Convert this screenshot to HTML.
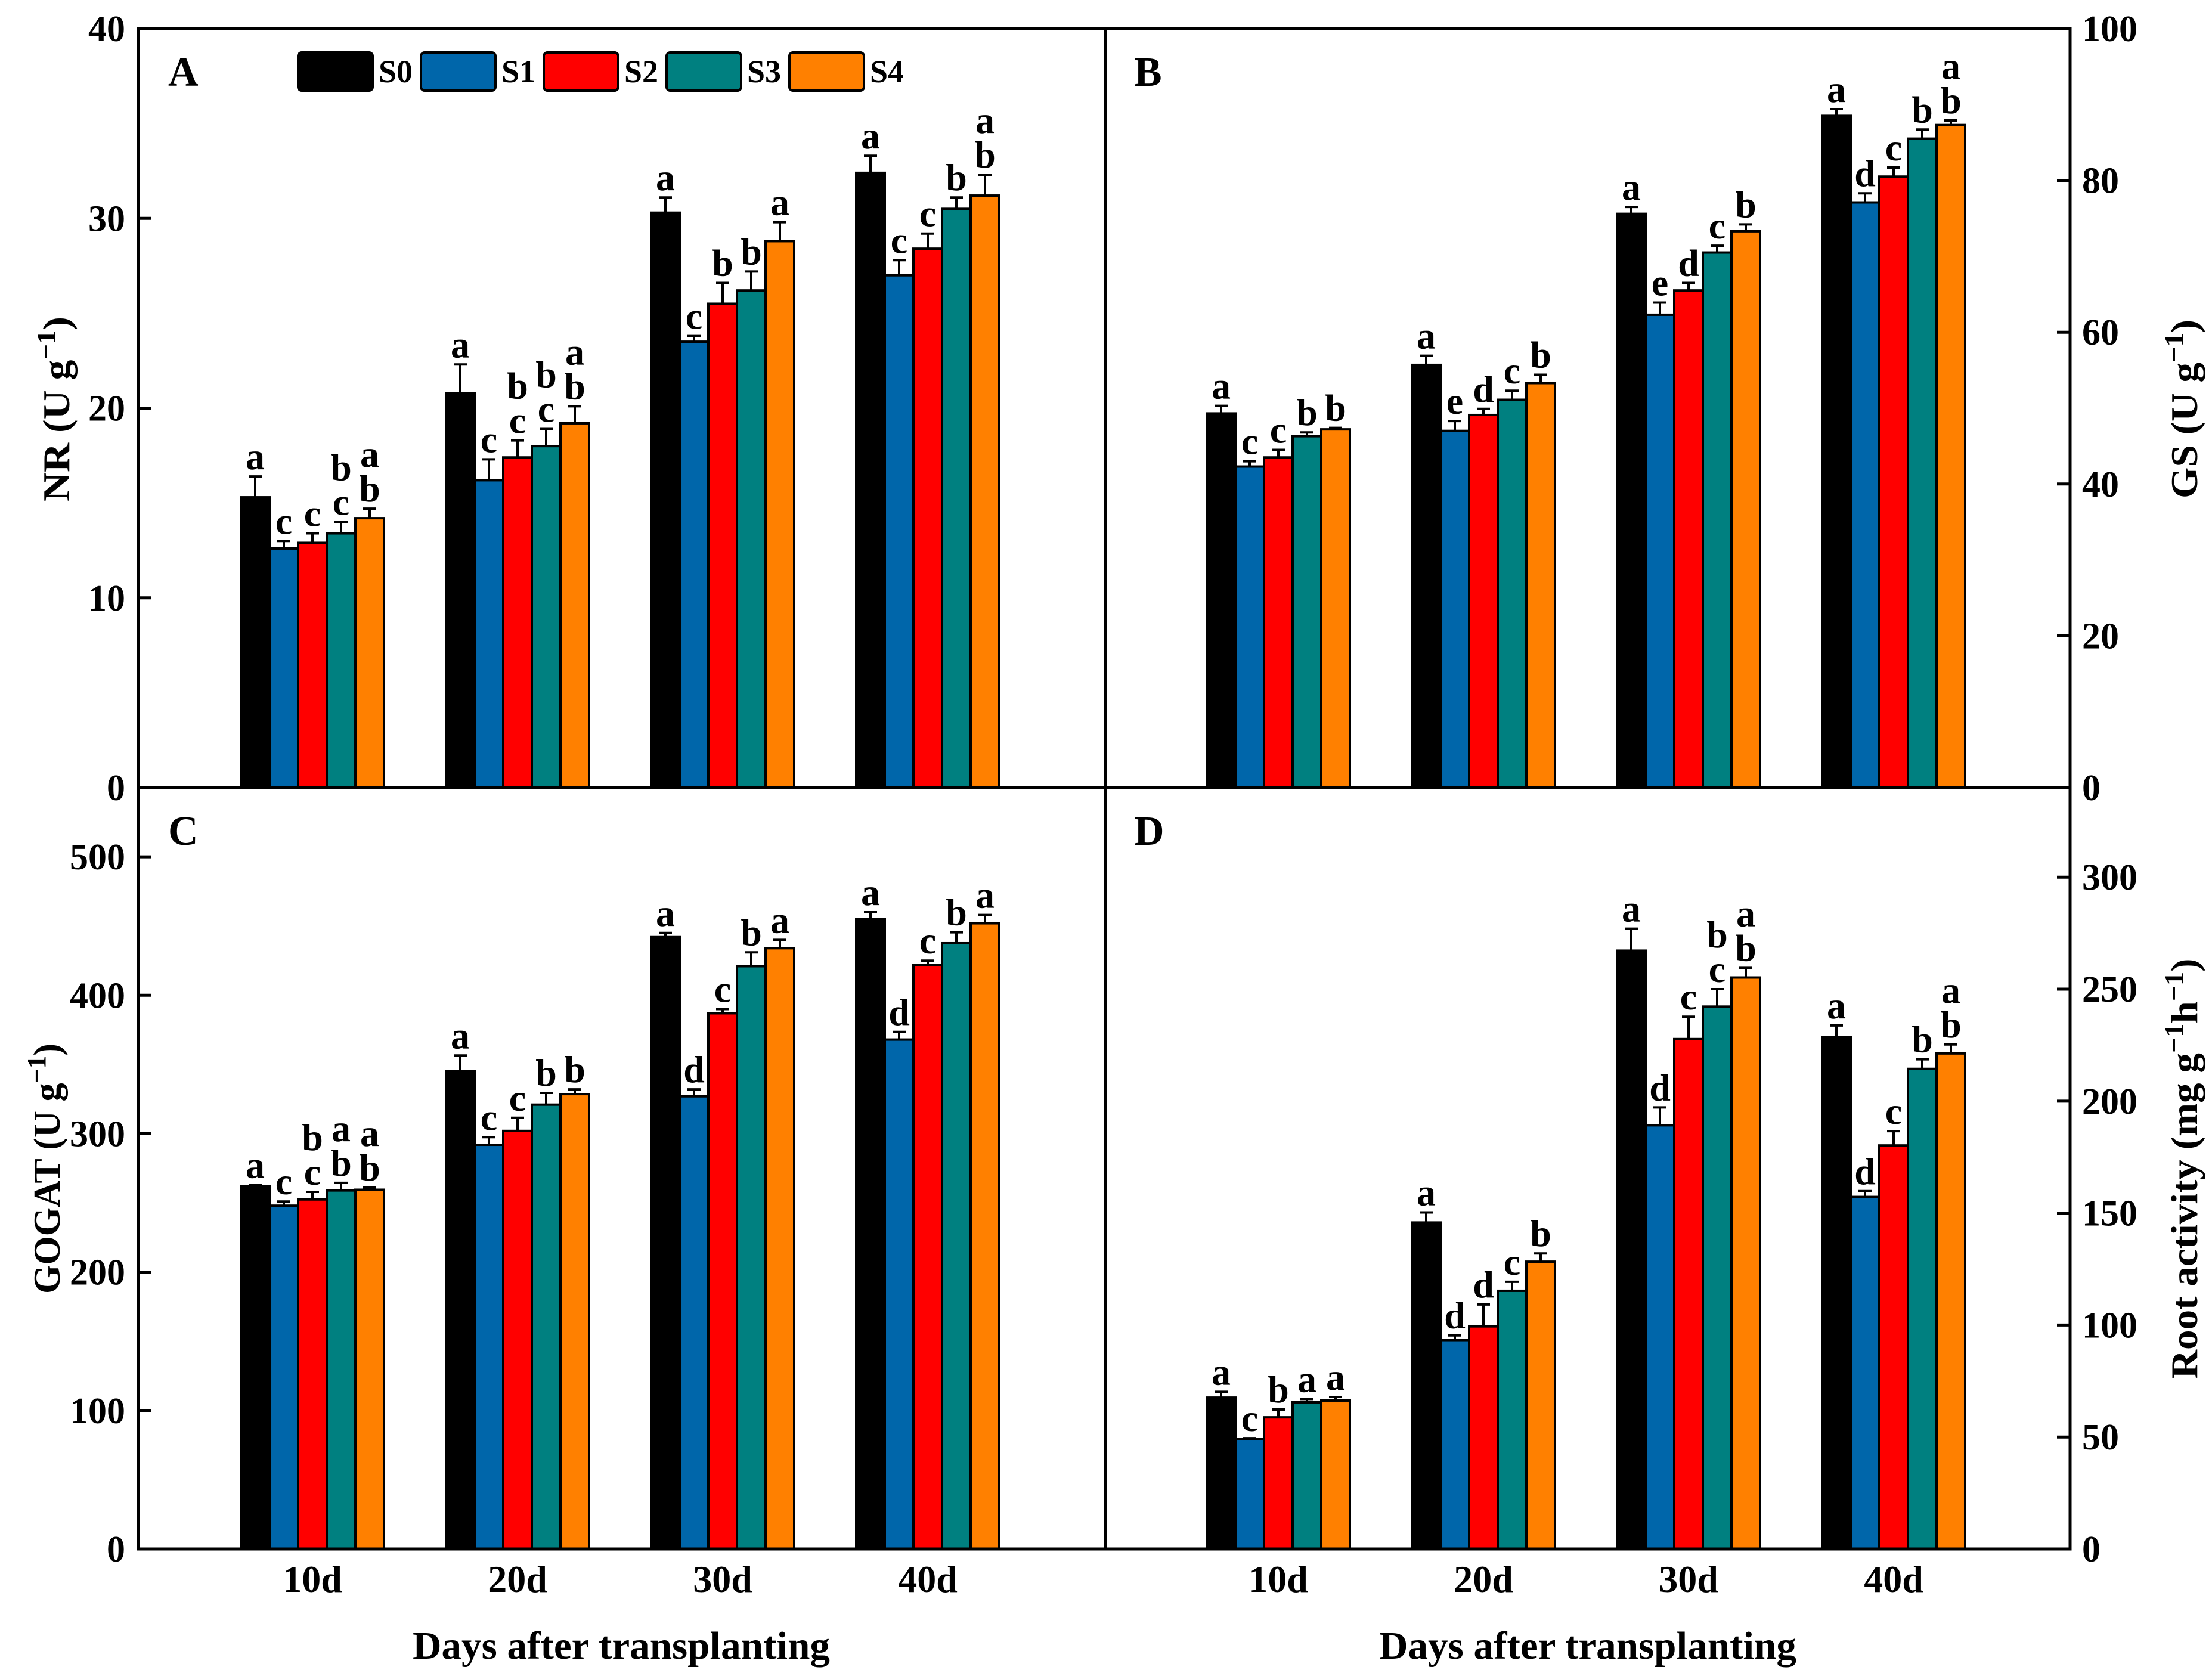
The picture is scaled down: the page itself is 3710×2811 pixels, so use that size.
<!DOCTYPE html>
<html><head><meta charset="utf-8"><style>
html,body{margin:0;padding:0;background:#fff}
svg{display:block}
text{font-family:"Liberation Serif",serif;font-weight:bold;fill:#000}
</style></head><body>
<svg id="chart" width="3710" height="2811" viewBox="0 0 3710 2811" xmlns="http://www.w3.org/2000/svg"></svg>
<script>
const categories = ["10d","20d","30d","40d"];
const seriesNames = ["S0","S1","S2","S3","S4"];
const colors = ["#000000","#0066AA","#FF0000","#008080","#FF8000"];

// Panel A: NR
const nrMean = [[15.3,20.8,30.3,32.4],[12.6,16.2,23.5,27.0],[12.9,17.4,25.5,28.4],[13.4,18.0,26.2,30.5],[14.2,19.2,28.8,31.2]];
const nrErr  = [[16.4,22.3,31.1,33.3],[13.0,17.3,23.8,27.8],[13.4,18.3,26.6,29.2],[14.0,18.9,27.2,31.1],[14.7,20.1,29.8,32.3]];
const nrLetters = [["a","a","a","a"],["c","c","c","c"],["c","b c","b","c"],["b c","b c","b","b"],["a b","a b","a","a b"]];
const nrTicks = [0,10,20,30,40];

// Panel B: GS
const gsMean = [[49.3,55.7,75.6,88.5],[42.3,47.0,62.3,77.1],[43.5,49.1,65.5,80.5],[46.3,51.1,70.5,85.5],[47.2,53.3,73.3,87.3]];
const gsErr  = [[50.3,56.9,76.5,89.4],[43.0,48.3,63.9,78.3],[44.5,49.9,66.5,81.7],[46.8,52.3,71.4,86.7],[47.4,54.4,74.2,87.9]];
const gsLetters = [["a","a","a","a"],["c","e","e","d"],["c","d","d","c"],["b","c","c","b"],["b","b","b","a b"]];
const gsTicks = [0,20,40,60,80,100];

// Panel C: GOGAT
const gogatMean = [[262,345,442,455],[248,292,327,368],[252.5,302,387,422],[259,321,421,437.6],[259.5,328.6,434,452]];
const gogatErr  = [[263,356.5,445,460],[251,297.5,332,373.5],[258,311.5,390,425],[264.5,329.5,431,445.5],[261,332,440,458]];
const gogatLetters = [["a","a","a","a"],["c","c","d","d"],["b c","c","c","c"],["a b","b","b","b"],["a b","b","a","a"]];
const gogatTicks = [0,100,200,300,400,500];

// Panel D: Root activity
const raMean = [[67.6,145.8,267.2,228.5],[49,93.3,189.2,157.2],[58.8,99.4,227.7,180.2],[65.5,115.3,242.2,214.4],[66.3,128.3,255.2,221.3]];
const raErr  = [[70.2,150.3,277,233.8],[49.5,95.4,197.2,159.8],[62.3,109.2,237.7,186.6],[67,119.3,250,218.7],[67.9,132,259.5,225.3]];
const raLetters = [["a","a","a","a"],["c","d","d","d"],["b","d","c","c"],["a","c","b c","b"],["a","b","a b","a b"]];
const raTicks = [0,50,100,150,200,250,300];

const NS="http://www.w3.org/2000/svg";
const svg=document.getElementById('chart');
function mk(tag,attrs,parent){const e=document.createElementNS(NS,tag);for(const k in attrs)e.setAttribute(k,attrs[k]);(parent||svg).appendChild(e);return e;}

const L=232,M=1854,R=3472,T=48,MY=1321,B=2598;
const BARW=48, GAP=344;

function panel(p){
  const g=mk('g',{});
  
  
  const y=v=>p.y0-(v/p.max)*(p.y0-p.y1);
  const gc=i=>p.x0+524-232+GAP*i;
  p.ticks.forEach(t=>{
    const yy=y(t);
    const tk=mk('line',{x1:p.axisX,x2:p.axisX+(p.right?-22:22),y1:yy,y2:yy,stroke:'#000','stroke-width':5},g);
    
    
    const lb=mk('text',{x:p.right?p.axisX+20:p.axisX-22,y:yy+21,'font-size':62,'text-anchor':p.right?'start':'end'},g);
    lb.textContent=t;
    
    
  });
  categories.forEach((c,i)=>{
    const cx=gc(i);
    const xt=mk('line',{x1:cx,x2:cx,y1:p.y0,y2:p.y0-20,stroke:'#000','stroke-width':5},g);
    
    
    seriesNames.forEach((s,j)=>{
      const v=p.mean[j][i], e=p.err[j][i];
      const x=cx+(j-2)*BARW-BARW/2;
      const bar=mk('rect',{x:x,y:y(v),width:BARW,height:p.y0-y(v),fill:colors[j],stroke:'#000','stroke-width':4},g);
      
      
      const bx=x+BARW/2;
      const el=mk('line',{x1:bx,x2:bx,y1:y(v),y2:y(e),stroke:'#000','stroke-width':4},g);
      
      
      const cap=mk('line',{x1:bx-11,x2:bx+11,y1:y(e),y2:y(e),stroke:'#000','stroke-width':4},g);
      
      
      const parts=p.letters[j][i].split(' ');
      parts.forEach((ltr,k)=>{
        const ty=y(e)-12-(parts.length-1-k)*58;
        const lt=mk('text',{x:bx,y:ty,'font-size':64,'text-anchor':'middle'},g);
        lt.textContent=ltr;
        
        
      });
    });
    if(p.xlabels){
      const xl=mk('text',{x:cx,y:2670,'font-size':64,'text-anchor':'middle'},g);
      xl.textContent=c;
      
      
    }
  });
  const pl=mk('text',{x:p.x0+50,y:p.y1+96,'font-size':70},g);
  pl.textContent=p.label;
  
  
}

panel({name:'panel-a-nr',x0:L,axisX:L,right:false,y0:MY,y1:T,max:40,mean:nrMean,err:nrErr,letters:nrLetters,ticks:nrTicks,label:'A'});
panel({name:'panel-b-gs',x0:M-2,axisX:R,right:true,y0:MY,y1:T,max:100,mean:gsMean,err:gsErr,letters:gsLetters,ticks:gsTicks,label:'B'});
panel({name:'panel-c-gogat',x0:L,axisX:L,right:false,y0:B,y1:MY,max:550,mean:gogatMean,err:gogatErr,letters:gogatLetters,ticks:gogatTicks,label:'C',xlabels:true});
panel({name:'panel-d-root',x0:M-2,axisX:R,right:true,y0:B,y1:MY,max:340,mean:raMean,err:raErr,letters:raLetters,ticks:raTicks,label:'D',xlabels:true});

const fr=mk('rect',{x:L,y:T,width:R-L,height:B-T,fill:'none',stroke:'#000','stroke-width':5});


const hl=mk('line',{x1:L,x2:R,y1:MY,y2:MY,stroke:'#000','stroke-width':5});


const vl=mk('line',{x1:M,x2:M,y1:T,y2:B,stroke:'#000','stroke-width':5});



seriesNames.forEach((s,j)=>{
  const x=500+j*206;
  const g=mk('g',{});
  
  
  mk('rect',{x:x,y:88,width:125,height:64,rx:6,fill:colors[j],stroke:'#000','stroke-width':4},g);
  const t=mk('text',{x:x+135,y:138,'font-size':54},g);
  t.textContent=s;
});

function rtitle(txt,cx,cy,name,len){
  const t=mk('text',{x:0,y:0,'font-size':64,'text-anchor':'middle',transform:`translate(${cx},${cy}) rotate(-90)`});
  t.innerHTML=txt;
  if(len){t.setAttribute('textLength',len);t.setAttribute('lengthAdjust','spacingAndGlyphs');}
  
  
}
rtitle('NR (U g<tspan dy="-24" font-size="44">−1</tspan><tspan dy="24">)</tspan>',116,686,'y-axis-title-nr',310);
rtitle('GOGAT (U g<tspan dy="-24" font-size="44">−1</tspan><tspan dy="24">)</tspan>',100,1960,'y-axis-title-gogat',420);
rtitle('GS (U g<tspan dy="-24" font-size="44">−1</tspan><tspan dy="24">)</tspan>',3685,686,'y-axis-title-gs',300);
rtitle('Root activity  (mg g<tspan dy="-24" font-size="44">−1</tspan><tspan dy="24">h</tspan><tspan dy="-24" font-size="44">−1</tspan><tspan dy="24">)</tspan>',3685,1960,'y-axis-title-root-activity',705);

function xtitle(cx,name){
  const t=mk('text',{x:cx,y:2782,'font-size':66,'text-anchor':'middle',textLength:700,lengthAdjust:'spacingAndGlyphs'});
  t.textContent='Days after transplanting';
  
  
}
xtitle(1042,'x-axis-title-left');
xtitle(2663,'x-axis-title-right');
</script>
</body></html>
